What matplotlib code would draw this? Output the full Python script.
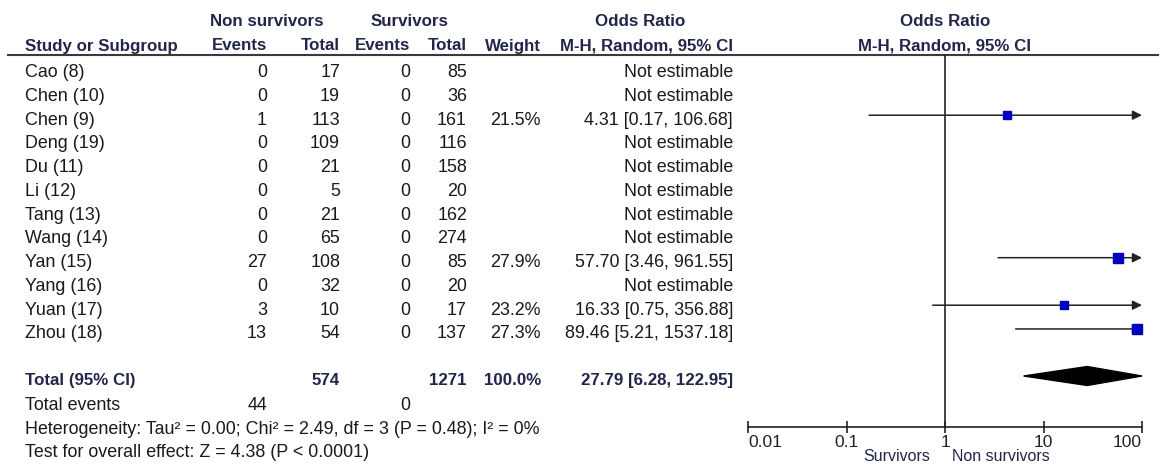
import matplotlib.pyplot as plt
import numpy as np

plt.rcParams["font.family"] = ["Liberation Sans", "DejaVu Sans"]

studies = ["Cao (8)", "Chen (10)", "Chen (9)", "Deng (19)", "Du (11)",
           "Li (12)", "Tang (13)", "Wang (14)", "Yan (15)", "Yang (16)",
           "Yuan (17)", "Zhou (18)"]
ns_events = [0, 0, 1, 0, 0, 0, 0, 0, 27, 0, 3, 13]
ns_total = [17, 19, 113, 109, 21, 5, 21, 65, 108, 32, 10, 54]
s_events = [0, 0, 0, 0, 0, 0, 0, 0, 0, 0, 0, 0]
s_total = [85, 36, 161, 116, 158, 20, 162, 274, 85, 20, 17, 137]
weights = [None, None, 21.5, None, None, None, None, None, 27.9, None,
           23.2, 27.3]
odds = [None, None, 4.31, None, None, None, None, None, 57.70, None,
        16.33, 89.46]
ci_low = [None, None, 0.17, None, None, None, None, None, 3.46, None,
          0.75, 5.21]
ci_high = [None, None, 106.68, None, None, None, None, None, 961.55, None,
           356.88, 1537.18]

total_ns, total_s = 574, 1271
total_weight = 100.0
total_ns_events, total_s_events = 44, 0
pooled_or, pooled_low, pooled_high = 27.79, 6.28, 122.95
heterogeneity = ("Heterogeneity: Tau\u00b2 = 0.00; Chi\u00b2 = 2.49, df = 3 "
                 "(P = 0.48); I\u00b2 = 0%")
overall = "Test for overall effect: Z = 4.38 (P < 0.0001)"
tick_values = [0.01, 0.1, 1, 10, 100]
tick_labels = ["0.01", "0.1", "1", "10", "100"]

W, H = 1161, 465
FS = 12.9
HEAD = "#22264a"
TXT = "#1a1a1a"


def txt(ax, x, y, s, ha="left", bold=False, color=None):
    """
    Put a text in pixel coordinates (baseline at y)
    """
    ax.text(x, y, s, ha=ha, va="baseline", fontsize=FS if not bold else 12.2,
            fontweight="bold" if bold else "normal",
            color=color or (HEAD if bold else TXT))


def main():
    fig = plt.figure(figsize=(W / 100, H / 100), dpi=100)
    ax = fig.add_axes([0, 0, 1, 1])
    ax.set_xlim(0, W)
    ax.set_ylim(H, 0)
    ax.axis("off")

    # header
    txt(ax, 267, 26.5, "Non survivors", ha="center", bold=True)
    txt(ax, 410, 26.5, "Survivors", ha="center", bold=True)
    txt(ax, 640, 26.5, "Odds Ratio", ha="center", bold=True)
    txt(ax, 945, 26.5, "Odds Ratio", ha="center", bold=True)
    txt(ax, 25, 50.5, "Study or Subgroup", bold=True)
    txt(ax, 267, 50.5, "Events", ha="right", bold=True)
    txt(ax, 340, 50.5, "Total", ha="right", bold=True)
    txt(ax, 410, 50.5, "Events", ha="right", bold=True)
    txt(ax, 467, 50.5, "Total", ha="right", bold=True)
    txt(ax, 541, 50.5, "Weight", ha="right", bold=True)
    txt(ax, 733, 50.5, "M-H, Random, 95% CI", ha="right", bold=True)
    txt(ax, 945, 50.5, "M-H, Random, 95% CI", ha="center", bold=True)
    ax.plot([8, 1158], [55, 55], color="#3a3a3a", lw=1.5)

    rows = 77 + 23.75 * np.arange(len(studies))
    for i, y in enumerate(rows):
        txt(ax, 25, y, studies[i])
        txt(ax, 267, y, str(ns_events[i]), ha="right")
        txt(ax, 340, y, str(ns_total[i]), ha="right")
        txt(ax, 410, y, str(s_events[i]), ha="right")
        txt(ax, 467, y, str(s_total[i]), ha="right")
        if weights[i] is None:
            txt(ax, 733, y, "Not estimable", ha="right")
        else:
            txt(ax, 541, y, f"{weights[i]:.1f}%", ha="right")
            txt(ax, 733, y, f"{odds[i]:.2f} [{ci_low[i]:.2f}, "
                f"{ci_high[i]:.2f}]", ha="right")

    y_tot = 385
    txt(ax, 25, y_tot, "Total (95% CI)", bold=True)
    txt(ax, 340, y_tot, str(total_ns), ha="right", bold=True)
    txt(ax, 467, y_tot, str(total_s), ha="right", bold=True)
    txt(ax, 541, y_tot, f"{total_weight:.1f}%", ha="right", bold=True)
    txt(ax, 733, y_tot, f"{pooled_or:.2f} [{pooled_low:.2f}, "
        f"{pooled_high:.2f}]", ha="right", bold=True)
    txt(ax, 25, 410, "Total events")
    txt(ax, 267, 410, str(total_ns_events), ha="right")
    txt(ax, 410, 410, str(total_s_events), ha="right")
    txt(ax, 25, 434, heterogeneity)
    txt(ax, 25, 457, overall)

    # forest plot
    axis_y = 427
    fax = fig.add_axes([748 / W, (H - axis_y) / H, 394 / W, axis_y / H])
    fax.set_xscale("log")
    fax.set_xlim(0.01, 100)
    fax.set_ylim(axis_y, 0)
    fax.patch.set_alpha(0)
    for side in ["left", "right", "top"]:
        fax.spines[side].set_visible(False)
    fax.spines["bottom"].set_linewidth(1.2)
    fax.spines["bottom"].set_color("#222222")
    fax.set_yticks([])
    fax.set_xticks(tick_values)
    fax.set_xticklabels(tick_labels)
    fax.minorticks_off()
    fax.tick_params(axis="x", direction="inout", length=9, width=1.2,
                    pad=1, labelsize=12.5, colors="#222222")
    labels = fax.get_xticklabels()
    labels[0].set_ha("left")
    labels[-1].set_ha("right")
    fax.plot([1, 1], [55, axis_y], color="#222222", lw=1.2, clip_on=False)

    for i, y in enumerate(rows):
        if odds[i] is None:
            continue
        ym = y - 9.3
        hi = ci_high[i]
        if hi > 100:
            fax.annotate("", xy=(100, ym), xytext=(ci_low[i], ym),
                         arrowprops=dict(arrowstyle="-|>", color="#222222",
                                         lw=1.1, mutation_scale=14,
                                         shrinkA=0, shrinkB=0),
                         annotation_clip=False)
        else:
            fax.plot([ci_low[i], hi], [ym, ym], color="#222222", lw=1.1)
        fax.plot(odds[i], ym, marker="s", color="#0000c0",
                 ms=0.72 * 1.75 * np.sqrt(weights[i]), clip_on=False,
                 zorder=5)

    yd = y_tot - 9
    fax.fill([pooled_low, pooled_or, min(pooled_high, 100), pooled_or],
             [yd, yd - 9.5, yd, yd + 9.5], color="black", clip_on=False)

    ax.text(930, 464, "Survivors", ha="right", va="bottom", fontsize=11.5,
            color=HEAD)
    ax.text(952, 464, "Non survivors", ha="left", va="bottom", fontsize=11.5,
            color=HEAD)

    fig.savefig("out.png", dpi=100)


if __name__ == "__main__":
    main()
